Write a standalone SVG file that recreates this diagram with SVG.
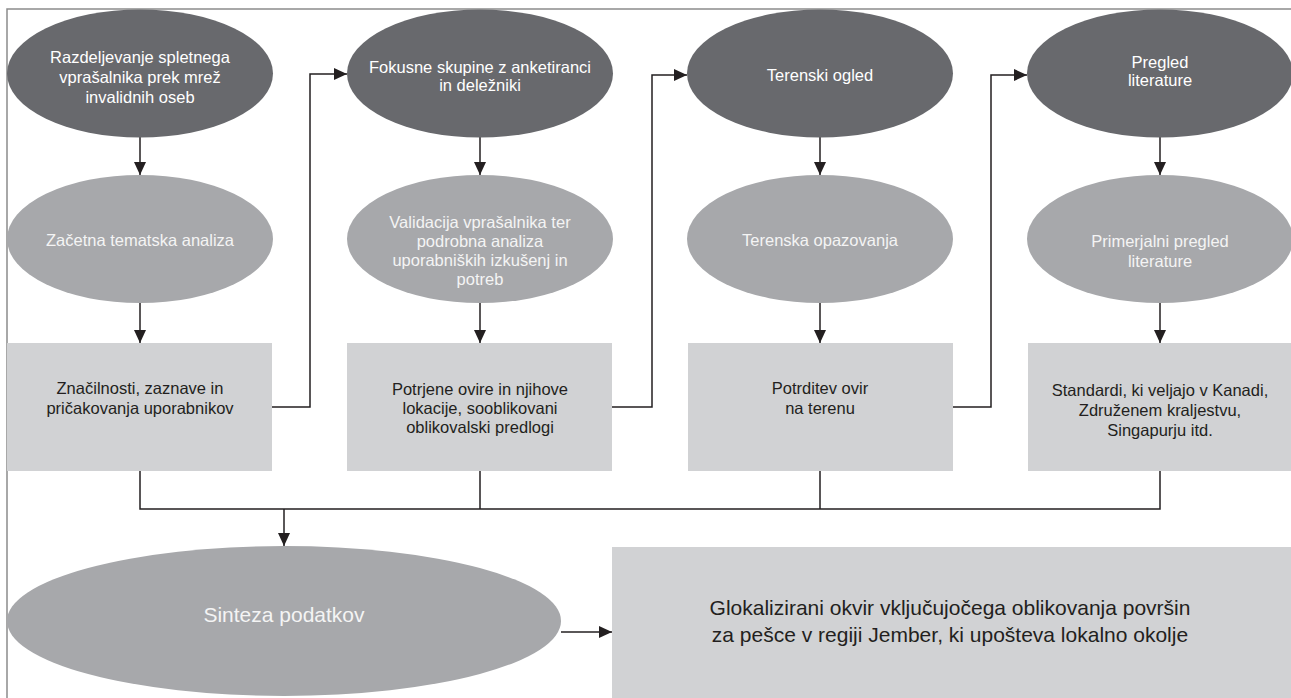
<svg xmlns="http://www.w3.org/2000/svg" width="1291" height="698" viewBox="0 0 1291 698">
<style>
.dk{fill:#68696d}
.md{fill:#a7a8ab}
.lt{fill:#d1d2d4}
text{font-family:"Liberation Sans",Arial,sans-serif;font-size:16.5px;text-anchor:middle}
.tw{fill:#ffffff}
.tm{fill:#f4f4f4}
.td{fill:#231f20}
.big{font-size:21px}
.con{fill:none;stroke:#231f20;stroke-width:1.5}
</style>
<defs>
<marker id="ah" markerUnits="userSpaceOnUse" markerWidth="13" markerHeight="12" refX="13" refY="6" orient="auto">
<path d="M0,0 L13,6 L0,12 z" fill="#231f20"/>
</marker>
</defs>
<rect width="1291" height="698" fill="#ffffff"/>
<path d="M7,698 V9 H1291" fill="none" stroke="#8c8c8c" stroke-width="1.5"/>

<g id="connectors">
<line class="con" x1="140" y1="137" x2="140" y2="175" marker-end="url(#ah)"/>
<line class="con" x1="480" y1="137" x2="480" y2="175" marker-end="url(#ah)"/>
<line class="con" x1="820" y1="137" x2="820" y2="175" marker-end="url(#ah)"/>
<line class="con" x1="1160" y1="137" x2="1160" y2="175" marker-end="url(#ah)"/>
<line class="con" x1="140" y1="303" x2="140" y2="343" marker-end="url(#ah)"/>
<line class="con" x1="480" y1="303" x2="480" y2="343" marker-end="url(#ah)"/>
<line class="con" x1="820" y1="303" x2="820" y2="343" marker-end="url(#ah)"/>
<line class="con" x1="1160" y1="303" x2="1160" y2="343" marker-end="url(#ah)"/>
<path class="con" d="M272,407 H310 V74 H347" marker-end="url(#ah)"/>
<path class="con" d="M612,407 H652 V75 H687" marker-end="url(#ah)"/>
<path class="con" d="M953,407 H991 V75 H1027" marker-end="url(#ah)"/>
<path class="con" d="M140,471 V509 H1160 V471 M480,471 V509 M820,471 V509"/>
<line class="con" x1="284" y1="509" x2="284" y2="546" marker-end="url(#ah)"/>
<line class="con" x1="561" y1="632" x2="612" y2="632" marker-end="url(#ah)"/>
</g>

<g id="n1">
<ellipse class="dk" cx="140" cy="73.5" rx="133" ry="64"/>
<text class="tw"><tspan x="140" y="63">Razdeljevanje spletnega</tspan><tspan x="140" y="83">vprašalnika prek mrež</tspan><tspan x="140" y="103">invalidnih oseb</tspan></text>
</g>
<g id="n2">
<ellipse class="dk" cx="480" cy="73.5" rx="133" ry="64"/>
<text class="tw"><tspan x="480" y="73">Fokusne skupine z anketiranci</tspan><tspan x="480" y="91">in deležniki</tspan></text>
</g>
<g id="n3">
<ellipse class="dk" cx="820" cy="73.5" rx="133" ry="64"/>
<text class="tw"><tspan x="820" y="81">Terenski ogled</tspan></text>
</g>
<g id="n4">
<ellipse class="dk" cx="1160" cy="73.5" rx="133" ry="64"/>
<text class="tw"><tspan x="1160" y="68">Pregled</tspan><tspan x="1160" y="86">literature</tspan></text>
</g>

<g id="n5">
<ellipse class="md" cx="140" cy="239" rx="133" ry="64"/>
<text class="tm"><tspan x="140" y="246">Začetna tematska analiza</tspan></text>
</g>
<g id="n6">
<ellipse class="md" cx="480" cy="239" rx="133" ry="64"/>
<text class="tm"><tspan x="480" y="228">Validacija vprašalnika ter</tspan><tspan x="480" y="247">podrobna analiza</tspan><tspan x="480" y="266">uporabniških izkušenj in</tspan><tspan x="480" y="285">potreb</tspan></text>
</g>
<g id="n7">
<ellipse class="md" cx="820" cy="239" rx="133" ry="64"/>
<text class="tm"><tspan x="820" y="246">Terenska opazovanja</tspan></text>
</g>
<g id="n8">
<ellipse class="md" cx="1160" cy="239" rx="133" ry="64"/>
<text class="tm"><tspan x="1160" y="247">Primerjalni pregled</tspan><tspan x="1160" y="267">literature</tspan></text>
</g>

<g id="n9">
<rect class="lt" x="7" y="343" width="265" height="128"/>
<text class="td"><tspan x="140" y="394">Značilnosti, zaznave in</tspan><tspan x="140" y="414">pričakovanja uporabnikov</tspan></text>
</g>
<g id="n10">
<rect class="lt" x="347" y="343" width="265" height="128"/>
<text class="td"><tspan x="480" y="395">Potrjene ovire in njihove</tspan><tspan x="480" y="414">lokacije, sooblikovani</tspan><tspan x="480" y="433">oblikovalski predlogi</tspan></text>
</g>
<g id="n11">
<rect class="lt" x="688" y="343" width="265" height="128"/>
<text class="td"><tspan x="820" y="394">Potrditev ovir</tspan><tspan x="820" y="414">na terenu</tspan></text>
</g>
<g id="n12">
<rect class="lt" x="1028" y="343" width="263" height="128"/>
<text class="td"><tspan x="1160" y="396">Standardi, ki veljajo v Kanadi,</tspan><tspan x="1160" y="416">Združenem kraljestvu,</tspan><tspan x="1160" y="436">Singapurju itd.</tspan></text>
</g>

<g id="n13">
<ellipse class="md" cx="284" cy="621" rx="277" ry="75"/>
<text class="tm big"><tspan x="284" y="622">Sinteza podatkov</tspan></text>
</g>
<g id="n14">
<rect class="lt" x="612" y="547" width="679" height="151"/>
<text class="td big"><tspan x="950" y="615">Glokalizirani okvir vključujočega oblikovanja površin</tspan><tspan x="950" y="642">za pešce v regiji Jember, ki upošteva lokalno okolje</tspan></text>
</g>
</svg>
